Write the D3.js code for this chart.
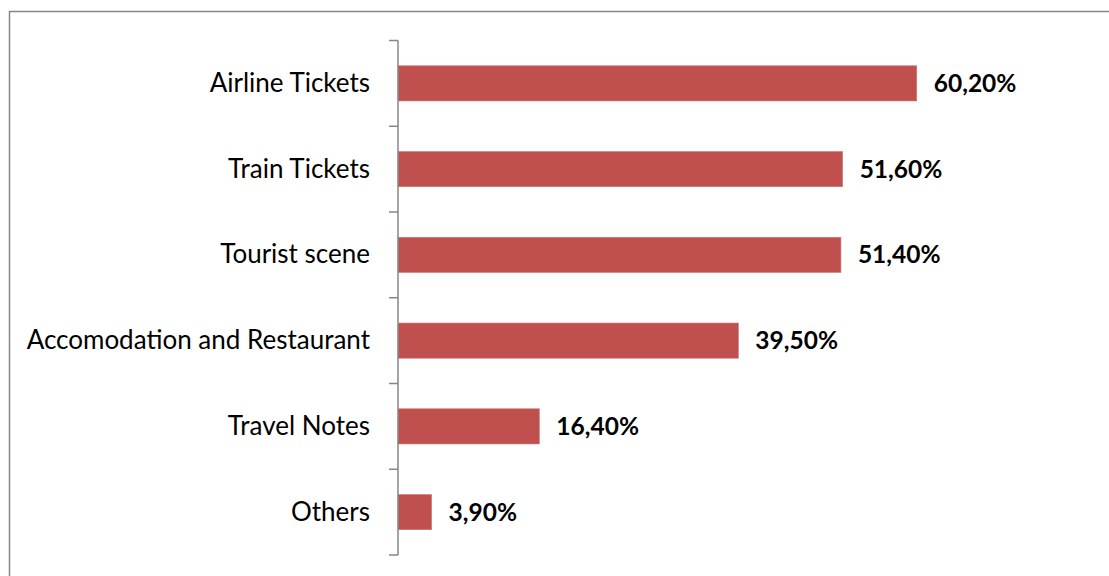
<!DOCTYPE html>
<html>
<head>
<meta charset="utf-8">
<script src="https://cdn.jsdelivr.net/npm/d3@7"></script>
<style>
  body { margin: 0; background: #fff; }
  svg { display: block; }
</style>
</head>
<body>
<div id="chart"></div>
<script>
const categories = ["Airline Tickets", "Train Tickets", "Tourist scene", "Accomodation and Restaurant", "Travel Notes", "Others"];
const values = [60.2, 51.6, 51.4, 39.5, 16.4, 3.9];
const valueLabels = ["60,20%", "51,60%", "51,40%", "39,50%", "16,40%", "3,90%"];

const width = 1109, height = 576;
const axisX = 398, plotTop = 40.5, plotBottom = 555;

const svg = d3.select("#chart")
    .append("svg")
    .attr("width", width)
    .attr("height", height);

// outer frame (runs off the right and bottom edges)
svg.append("rect")
    .attr("x", 9.5)
    .attr("y", 11.5)
    .attr("width", width)
    .attr("height", height)
    .attr("fill", "none")
    .attr("stroke", "#878787")
    .attr("stroke-width", 1.5);

const y = d3.scaleBand()
    .domain(categories)
    .range([plotTop, plotBottom])
    .paddingInner(0.59)
    .paddingOuter(0.295);

const x = d3.scaleLinear()
    .domain([0, 70])
    .range([axisX, axisX + 8.617 * 70]);

const data = categories.map((c, i) => ({ cat: c, value: values[i], label: valueLabels[i] }));

svg.selectAll(".bar")
    .data(data)
    .enter()
    .append("rect")
    .attr("class", "bar")
    .attr("x", x(0))
    .attr("y", d => y(d.cat))
    .attr("width", d => x(d.value) - x(0))
    .attr("height", y.bandwidth())
    .attr("fill", "#C0504D")
    .attr("stroke", "#CD7371")
    .attr("stroke-width", 0.6);

// category axis: line with ticks at band boundaries
const bounds = d3.range(categories.length + 1).map(i => plotTop + i * (plotBottom - plotTop) / categories.length);
const axis = svg.append("g").attr("stroke", "#878787").attr("stroke-width", 1.5);
axis.append("line")
    .attr("x1", axisX).attr("x2", axisX)
    .attr("y1", plotTop).attr("y2", plotBottom);
axis.selectAll(".tick")
    .data(bounds)
    .enter()
    .append("line")
    .attr("x1", axisX - 9).attr("x2", axisX)
    .attr("y1", d => d).attr("y2", d => d);

svg.selectAll(".cat")
    .data(data)
    .enter()
    .append("text")
    .attr("x", 370)
    .attr("y", d => y(d.cat) + y.bandwidth() / 2 + 8.5)
    .attr("text-anchor", "end")
    .style("font-family", "Lato, 'Open Sans', sans-serif")
    .style("font-size", "26px")
    .style("fill", "#000")
    .text(d => d.cat);

svg.selectAll(".val")
    .data(data)
    .enter()
    .append("text")
    .attr("x", d => x(d.value) + 17)
    .attr("y", d => y(d.cat) + y.bandwidth() / 2 + 8.5)
    .style("font-family", "Lato, 'Open Sans', sans-serif")
    .style("font-weight", "bold")
    .style("font-size", "24.5px")
    .style("fill", "#000")
    .text(d => d.label);
</script>
</body>
</html>
